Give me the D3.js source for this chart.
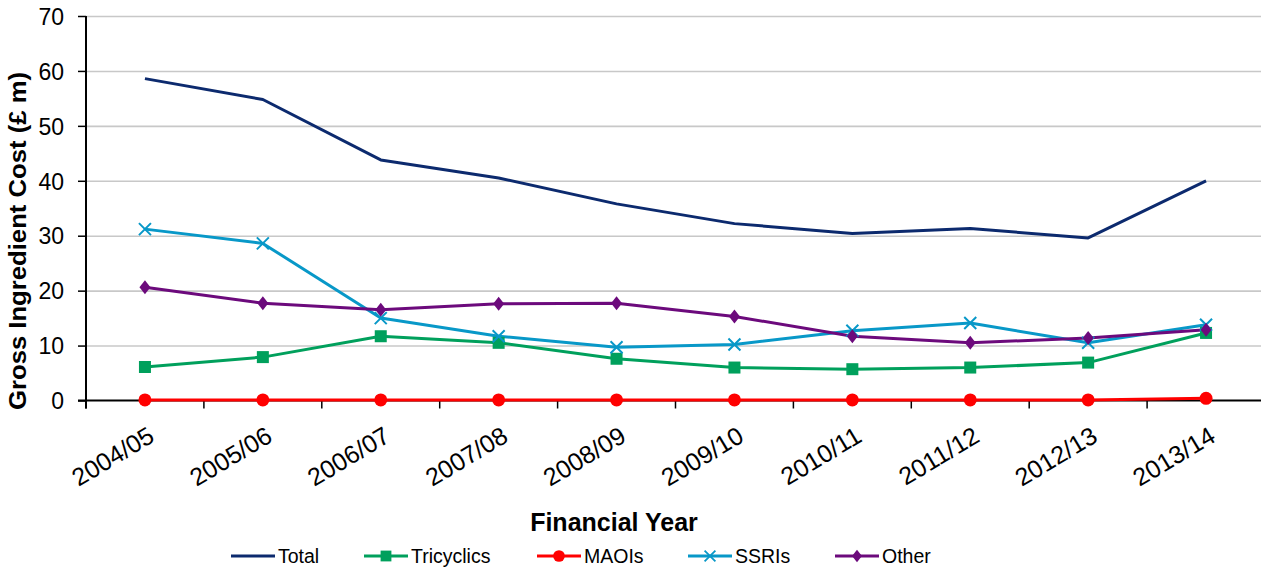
<!DOCTYPE html>
<html>
<head>
<meta charset="utf-8">
<script src="https://cdnjs.cloudflare.com/ajax/libs/d3/7.8.5/d3.min.js"></script>
<style>
  body { margin: 0; background: #fff; }
  svg { display: block; font-family: "Liberation Sans", Arial, sans-serif; }
</style>
</head>
<body>
<svg id="chart" width="1261" height="568"></svg>
<script>
const years = ["2004/05", "2005/06", "2006/07", "2007/08", "2008/09",
               "2009/10", "2010/11", "2011/12", "2012/13", "2013/14"];
const total = [58.6, 54.8, 43.8, 40.5, 35.8, 32.2, 30.4, 31.3, 29.6, 40.0];
const tricyclics = [6.1, 7.9, 11.7, 10.5, 7.6, 6.0, 5.7, 6.0, 6.9, 12.3];
const maois = [0.1, 0.1, 0.1, 0.1, 0.1, 0.1, 0.1, 0.1, 0.1, 0.4];
const ssris = [31.2, 28.6, 15.0, 11.7, 9.7, 10.2, 12.7, 14.1, 10.5, 13.8];
const other = [20.6, 17.7, 16.5, 17.6, 17.7, 15.3, 11.7, 10.5, 11.4, 12.9];
const yTicks = [0, 10, 20, 30, 40, 50, 60, 70];

const series = [
  { name: "Total", values: total, color: "#0c2a6e", marker: null },
  { name: "Tricyclics", values: tricyclics, color: "#00a05c", marker: "square" },
  { name: "MAOIs", values: maois, color: "#ff0000", marker: "circle" },
  { name: "SSRIs", values: ssris, color: "#0898c8", marker: "cross" },
  { name: "Other", values: other, color: "#6c0a7c", marker: "diamond" }
];

const svg = d3.select("#chart");
const plotLeft = 86, plotRight = 1265, plotTop = 16, plotBottom = 400.5;

const x = d3.scaleBand().domain(years).range([plotLeft, plotRight]);
const xb = d3.scaleLinear().domain([0, years.length]).range([plotLeft, plotRight]);
const y = d3.scaleLinear().domain([0, 70]).range([plotBottom, plotTop]);
const cx = d => x(d) + x.bandwidth() / 2;

// gridlines
svg.append("g")
  .attr("transform", `translate(${plotLeft},0)`)
  .call(d3.axisLeft(y).tickValues(yTicks.slice(1)).tickSize(-(plotRight - plotLeft)).tickFormat(""))
  .call(g => g.select(".domain").remove())
  .selectAll("line").attr("stroke", "#c8c8c8").attr("stroke-width", 1.6);

// y axis
const yAxis = svg.append("g")
  .attr("transform", `translate(${plotLeft},0)`)
  .call(d3.axisLeft(y).tickValues(yTicks).tickSize(8).tickPadding(14));
yAxis.select(".domain").remove();
yAxis.selectAll("line").attr("stroke", "#000").attr("stroke-width", 1.5);
yAxis.selectAll("text")
  .attr("font-size", 23).attr("fill", "#000")
  .attr("font-family", "Liberation Sans, Arial, sans-serif")
  .attr("dy", "0.36em");
svg.append("line")
  .attr("x1", plotLeft).attr("x2", plotLeft)
  .attr("y1", plotTop).attr("y2", plotBottom + 8)
  .attr("stroke", "#000").attr("stroke-width", 2);

// x axis
svg.append("line")
  .attr("x1", plotLeft - 8).attr("x2", plotRight)
  .attr("y1", plotBottom).attr("y2", plotBottom)
  .attr("stroke", "#000").attr("stroke-width", 2);
svg.append("g").selectAll("line")
  .data(d3.range(years.length + 1))
  .join("line")
  .attr("x1", d => xb(d)).attr("x2", d => xb(d))
  .attr("y1", plotBottom).attr("y2", plotBottom + 8)
  .attr("stroke", "#000").attr("stroke-width", 1.5);
svg.append("g").selectAll("text")
  .data(years)
  .join("text")
  .attr("transform", d => `translate(${cx(d) + 11},${plotBottom + 40}) rotate(-31)`)
  .attr("text-anchor", "end")
  .attr("font-size", 25)
  .text(d => d);

// lines
const line = d3.line().x((v, i) => cx(years[i])).y(v => y(v));
series.forEach(s => {
  svg.append("path")
    .datum(s.values)
    .attr("fill", "none")
    .attr("stroke", s.color)
    .attr("stroke-width", 3)
    .attr("stroke-linejoin", "round")
    .attr("d", line);
});

function drawMarker(g, type, color) {
  if (type === "square") {
    g.append("rect").attr("x", -6).attr("y", -6).attr("width", 12).attr("height", 12).attr("fill", color);
  } else if (type === "circle") {
    g.append("circle").attr("r", 6.5).attr("fill", color);
  } else if (type === "diamond") {
    g.append("path").attr("d", "M0,-7L5.5,0L0,7L-5.5,0Z").attr("fill", color);
  } else if (type === "cross") {
    g.append("path").attr("d", "M-6,-6L6,6M-6,6L6,-6").attr("stroke", color).attr("stroke-width", 2);
  }
}

series.filter(s => s.marker).forEach(s => {
  svg.append("g").selectAll("g")
    .data(s.values)
    .join("g")
    .attr("transform", (v, i) => `translate(${cx(years[i])},${y(v)})`)
    .each(function () { drawMarker(d3.select(this), s.marker, s.color); });
});

// axis titles
svg.append("text")
  .attr("transform", `translate(25.5,241) rotate(-90)`)
  .attr("text-anchor", "middle")
  .attr("font-size", 24).attr("font-weight", "bold")
  .attr("textLength", 338).attr("lengthAdjust", "spacingAndGlyphs")
  .text("Gross Ingredient Cost (£ m)");

svg.append("text")
  .attr("x", 614).attr("y", 531)
  .attr("text-anchor", "middle")
  .attr("font-size", 25).attr("font-weight", "bold")
  .text("Financial Year");

// legend
const legendX = [231, 364, 537, 688, 835];
const legend = svg.append("g").selectAll("g")
  .data(series)
  .join("g")
  .attr("transform", (d, i) => `translate(${legendX[i]},556)`);
legend.append("line")
  .attr("x1", 0).attr("x2", 44)
  .attr("stroke", d => d.color).attr("stroke-width", 3);
legend.each(function (d) {
  if (d.marker) {
    const m = d3.select(this).append("g").attr("transform", "translate(22,0) scale(0.9)");
    drawMarker(m, d.marker, d.color);
  }
});
legend.append("text")
  .attr("x", 47).attr("y", 7)
  .attr("font-size", 19.5)
  .text(d => d.name);
</script>
</body>
</html>
